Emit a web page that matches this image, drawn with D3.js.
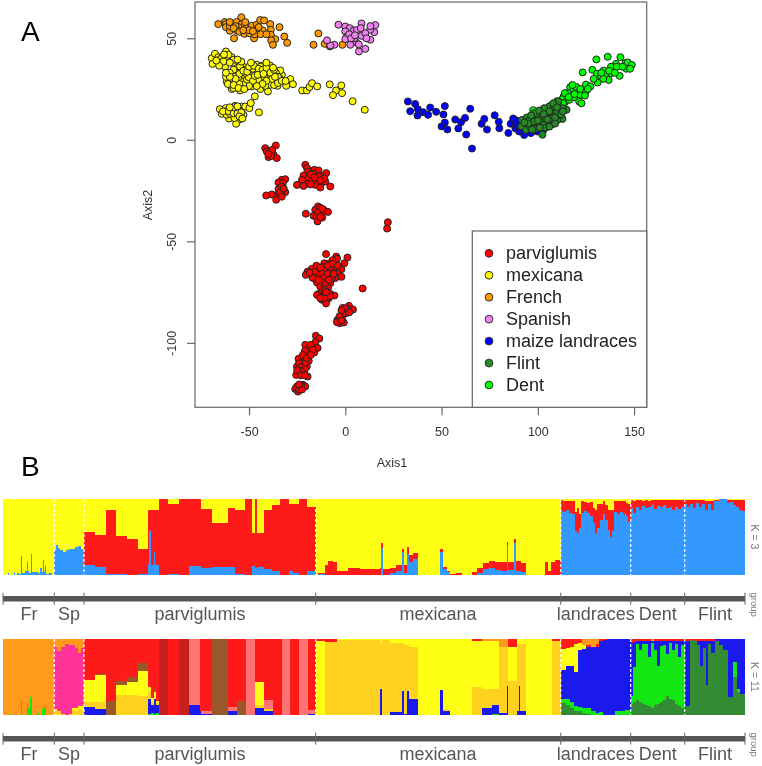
<!DOCTYPE html>
<html><head><meta charset="utf-8">
<script src="https://cdn.jsdelivr.net/npm/d3@7/dist/d3.min.js"></script>
<style>html,body{margin:0;background:#fff}svg{display:block;filter:blur(.5px)}text{font-family:"Liberation Sans",Arial,sans-serif}</style>
</head><body><svg id="c" width="762" height="766"></svg>
<script>
const parviglumisPts=[[-41.6,-4.1],[-36.1,-2.8],[-40.8,-5.7],[-39,-6.6],[-37.3,-7.4],[-39.9,-8.5],[-35.6,-9],[-38,-5],[-38.5,-8],[-40,-7],
[-20.8,-12.3],[-19.9,-13.9],[-19.6,-15.6],[-16.1,-14.8],[-13.9,-15.1],[-9.9,-16.4],[-21.7,-17.6],[-16.5,-16.7],[-12.1,-18],[-19,-18.9],[-15.1,-19.7],[-12.1,-21],[-20.3,-21.7],[-25.1,-22.2],[-21.7,-22.7],[-15.6,-22.2],[-13,-23.5],[-7.8,-23],[-22.5,-19.7],[-10.4,-20.5],[-18,-17],[-17,-20],[-14,-18],[-11,-19],[-18,-22],[-16,-18.5],[-13,-20],
[-33,-19.7],[-31.2,-19.4],[-34.7,-21],[-32.4,-21.3],[-34.7,-24.3],[-31.2,-25.8],[-33.5,-26.6],[-35.2,-27.1],[-38.2,-26.9],[-41.1,-27.4],[-35.9,-29.5],[-33,-23],[-34,-26],[-33,-28],[-32,-24],
[-14.2,-32.8],[-15.6,-34.5],[-11.3,-34.5],[-9,-35.5],[-20.5,-36.4],[-14.7,-36.9],[-12.1,-36.1],[-16.5,-37.4],[-12,-38.3],[-15,-38.1],[-14.4,-40.2],[-13,-33.5],[-14,-35.5],[-12,-34],[-13,-38],[22.1,-40.6],[21.7,-43.7],
[-10,-56.3],[-4.7,-57.5],[1.1,-58],[-4.3,-58.6],[-6.7,-59.3],[-0.5,-60.8],[-10.9,-60.8],[-8.6,-61.1],[-11.6,-62.7],[-6,-63.2],[-2,-63.7],[-17.3,-63.5],[-19.6,-64.9],[-7.4,-65],[-10.4,-64.4],[-13.9,-64.9],[-20.5,-66.5],[-17.3,-66.2],[-4,-66],[-2,-67.5],[-13.5,-67.3],[-9.5,-67],[-15.6,-68.6],[-5.2,-68.1],[-10.4,-69.8],[-14.7,-70.3],[-7.8,-70.6],[-13,-72.3],[-10.4,-72.3],[9,-73.2],
[-15,-62],[-13,-63],[-12,-66],[-11,-68],[-15,-66],[-8,-63],[-9,-66],[-7,-68],[-6,-66],[-12,-70],[-10,-71],[-16,-65],[-17,-68],[-9,-73],[-12,-74.5],[-9,-62],[-6.5,-61],[-18.5,-65.5],[-14,-69],[-8.5,-69],[-4,-62],
[-13.9,-76],[-12.1,-77.2],[-10.4,-76],[-7.8,-75.9],[-5.7,-76.7],[-14.7,-76.4],[-8.6,-78],[-12.1,-78.8],[-10,-80.6],[-10.4,-73.9],[-8,-77],[-11,-78],[-13,-78],[-10,-75],
[1.9,-81.8],[4,-83.6],[-1.4,-82.8],[1.2,-83.3],[0.4,-85.4],[-1.7,-87.4],[-4.1,-88.7],[-2.9,-90.3],[-0.8,-90],[-4.3,-89.8],[-1.2,-85.4],[0,-83],[-2,-84],[-3,-87],[-2,-89],[2,-85],
[-15.3,-96.5],[-13.5,-97.9],[-15.6,-99.7],[-20.8,-101],[-14.4,-102.5],[-17.2,-102.6],[-19.6,-103.5],[-16.1,-104.8],[-20.8,-105.9],[-22.9,-107.5],[-19,-108.9],[-24.3,-107.9],[-22,-109.7],[-25.1,-111.7],[-22.5,-112.8],[-20,-111.7],[-24.3,-114.6],[-21.7,-114.9],[-19.6,-116.6],[-25.5,-115.8],
[-18,-101],[-19,-106],[-21,-104],[-21,-108],[-23,-110],[-21,-110],[-24,-110],[-23,-112],[-21,-113],[-23,-114],[-25,-113.5],[-23,-116],[-21,-116],[-17,-103.5],[-22,-106],[-20,-107.5],[-18,-106],
[-22,-120.7],[-20.8,-121.5],[-25.1,-121.5],[-23,-122.3],[-26,-122.7],[-24.6,-124],[-23,-121],[-24,-123],[-22.5,-123],[-24,-120.5]];
const mexicanaPts=[[-69.4,40.2],[-69,37.4],[-67.7,42.4],[-66,40.7],[-65,38],[-62,43.5],[-63.9,41],[-61.6,39.7],[-59,40.7],[-62.5,36],[-58,37.8],[-55,37.8],[-56.4,35.3],[-53,36],[-49.5,34.8],[-46,37],[-43.4,36.5],[-39,36.5],[-59,32],[-56.4,33.7],[-53,31.5],[-49.5,32],[-45,33.7],[-41.6,33.7],[-37.3,32.5],[-33,32],[-33.8,34.2],[-61.6,28.7],[-57.3,28.7],[-53.8,28.7],[-50.3,28],[-46,28],[-40.8,28.7],[-36.4,29.6],[-34.2,30.4],[-59,25],[-54.7,24.3],[-51.2,26],[-44.2,25],[-40.2,23.8],[-35.2,26.6],[-30.7,26.6],[-28.6,29.9],[-27.2,27.4],
[-59.9,29.9],[-55.5,30.9],[-47.7,30.4],[-43.4,29.6],[-52,34.5],[-46.8,33.2],[-58,34.5],[-59.9,27.1],[-56.4,26.6],[-48.6,26.3],[-54.7,33.7],[-39.9,30.4],[-65,39.7],[-60.7,41.9],[-58.1,39.4],[-54.7,36.1],[-63.3,38.6],[-51.2,29.6],[-44.2,31.2],[-39,27.1],[-50.3,30.9],[-58.1,25.5],[-45.1,29.6],[-41.6,26.6],[-62,31],[-48,35],[-52,33],[-44,36],[-36,33],[-42,31],[-37,27],
[-60,33],[-57.5,31],[-55,32.5],[-53,34],[-51,33.5],[-50,36],[-47.5,36.5],[-45,35],[-43,34.5],[-41,35.5],[-39,33],[-37,34.5],[-35,31],[-38,30],[-41,29],[-43,27.5],[-46,26.5],[-48,29],[-50,26.5],[-53,27],[-55,27.5],[-57,30],[-60,31],[-61,27.5],[-58,27],[-55.5,25.5],[-52.5,25],[-47,31.5],[-45.5,32],[-42.5,32.5],[-35,28],[-33,29],[-31,29],[-36.5,31],[-54,38.5],[-56,39.5],[-60,38],[-63,42],[-65.5,36.5],[-67,39],[-62,33],[-49,38],[-41,38],[-37.5,35.5],
[-22.4,24.3],[-20,24.3],[-18.6,26],[-17.3,27.9],[-14.6,26.3],[-8.1,27.3],[-2.1,26.8],[-4.8,24.3],[-1.7,23],[-6.4,22],[3.8,19],[10.1,14.8],
[-65.2,15.1],[-64.2,12.8],[-62.1,15.6],[-62.5,14],[-59,14.8],[-60.4,10.5],[-57.3,16.7],[-53.8,16.4],[-55.5,15.1],[-52.9,12.3],[-55.2,9.9],[-56.7,7.9],[-57.6,10.7],[-61.6,12.3],[-52,16.4],[-49.8,15.6],[-49.1,18.1],[-47,21.4],[-44.9,13.5],[-59.9,12.8],[-63.5,14],[-60.5,14],[-58,13],[-56,13],[-54,13.5],[-58,16],[-55,11.5],[-56,16.5],[-60,16],[-53.5,10.5]];
const frenchPts=[[-66,57],[-62.6,58],[-62,57],[-62,55.5],[-60,53.7],[-54,60.4],[-56.4,58],[-53.8,57],[-55.5,55.5],[-56.4,53.9],[-55,53.2],[-52.4,52.2],[-49.8,52.5],[-47.4,50],[-57.8,50],[-51.2,55],[-48.6,56.2],[-46,56.7],[-44.2,59],[-42.2,58.8],[-39,57],[-42.9,53.9],[-46.3,53.9],[-45,55.5],[-34.2,55.5],[-38.7,54.2],[-38.7,51.7],[-36.4,49.6],[-38.5,49],[-37.6,46.8],[-31.7,50.9],[-30.2,47.8],[-14,52.4],[-16.5,46.8],[-10.7,47.3],[-1.5,46.8],[-8,46],[-60,56],[-57,56],[-52,58],[-50,54],[-47,52],[-44,52],[-58,55],[-53,54],[-48,53.5],[-41,52],[-60,58]];
const spanishPts=[[-3.6,56.7],[0,55.8],[8.4,57.3],[15.6,56.5],[15,53],[12.9,54.2],[2.3,55],[4.4,53.9],[0,53.4],[0.9,50.9],[8.5,51.2],[10.4,52.5],[13,49.3],[5.6,48],[2.6,46.8],[0,49.6],[10.4,44.8],[7.1,43.5],[-5.7,46.8],[-7.8,46.5],[-9.5,49],[4.7,50],[2,52],[6,54],[8,55],[11,50],[7,47],[3,50],[13,56],[5,51.5]];
const landracePts=[[32.5,18.9],[36.3,17.7],[37.7,15.1],[33.7,14.1],[40.5,13.6],[37.5,12],[43,12.3],[44.1,15.9],[47.2,13.8],[51,12.5],[51.7,16.6],[51.7,8.5],[50,6.6],[53,5.1],[57.1,10],[60.1,8.7],[62.2,10.8],[58.7,5.6],[62.8,2.6],[65.8,-4.3],[64.9,15.3],[70.8,7.9],[72.2,10.3],[73.6,5.1],[77.6,12.1],[79.7,8.9],[80,5.7],[84.7,3.4],[87.2,10.5],[85.9,7.9],[88.4,5.6],[90.3,4.1],[92.9,2.4],[88.5,7.9],[95.5,4.9],[98.1,5.2],[101.2,5.4],[99.8,4.1],[96.4,3.3],[91.1,6.6],[101.6,7.4],[95,6.5],[93,7],[92,5],[97,5.5],[99,7],[89,9.5],[93,4.5],[103,5]];
const dentPts=[[97.6,14.6],[130.4,39.6],[136.3,40.9],[142.9,40.7],[140.6,37.4],[145.5,37.8],[146.7,38.1],[148.8,36.9],[146,35],[147.9,35],[128.3,34.5],[123.3,33.2],[130.7,32.5],[134.2,34.1],[138.9,35.8],[139.2,34.1],[132.8,31.5],[135.8,32.5],[138,32.8],[142.5,31.5],[136.8,29.5],[131.1,28.2],[125,27.2],[127.3,26.3],[116.8,25.9],[120.7,24.3],[125,24.1],[118.1,23.8],[122,22.2],[117.5,21.7],[124.5,21.8],[113.4,21.3],[115.5,23],[112.8,20],[121.5,18.9],[122.7,18],[114.1,18.5],[116.3,19.7],[109.4,17.6],[112,16.7],[118.9,21],[138,36],[137,34],[141,36],[134,30],[133,33],[144,36],[120,26],[118,27],[114,23],[110,19],[113,18],[107,17],[105,15],[102,14.5],[119,22.5],[122,25],[126,25],[116,21],[129,30],[140,33]];
const flintPts=[[91.8,9.8],[94.3,11],[91.5,6.6],[94.6,7.9],[93.9,4.9],[97.2,7.9],[97.7,10.7],[100.7,7.9],[101.6,12.3],[104.2,13.9],[106.8,16.1],[108.5,14.8],[111.6,14.3],[114.9,14.8],[112.8,10.3],[110.2,9.8],[107.5,7.7],[105,8.2],[105.9,12],[102.4,2.5],[103.3,9.8],[99.8,12.3],[108.5,12.3],[112.8,15.6],[98.1,13.1],[105.9,16.4],[110.6,18.9],[103.3,15.6],[108.5,16.7],[111.1,12.3],[100.7,14.4],[103,7.4],[95.5,9.5],[96,6.5],[98,9],[99,5.5],[102,10.5],[104,11],[106,14],[107,10.5],[109,11],[110,14],[104,6],[101,6],[96.5,12],[95,8],[93,8.5],[106,6.5],[109,8],[112,12.5],[113,14],[100,9.5],[103,12.7],[105,10],[97,5],[108,18],[110,16]];
const xTicks=[-50,0,50,100,150], yTicks=[50,0,-50,-100];
const legendNames=["parviglumis","mexicana","French","Spanish","maize landraces","Flint","Dent"];
const legendColors=["#ff0000","#ffff00","#ff9a00","#ee82ee","#0000ff","#228b22","#00ff00"];

const groupNames=["Fr","Sp","parviglumis","mexicana","landraces","Dent","Flint"];
const groupEnds=[0,51.3,81,312.7,557.7,627.7,681.7,742];
// K=3: [last individual, blue share, red share]; the rest is yellow
const k3Rows=[[5,.01,0],[6,.03,0],[11,.01,0],[12,.04,0],[14,.01,0],[16,.03,0],[18,.02,0],[19,.25,0],[22,.03,0],[24,.06,0],[25,.18,0],[26,.06,0],[28,.03,0],[29,.28,0],[30,.04,0],[35,.04,0],[37,.03,0],[39,.1,0],[40,.04,0],[41,.2,0],[42,.05,0],[43,.12,0],[46,.02,0],[49,.03,0],[51.3,.01,0],
[53,.33,0],[55,.4,0],[57,.36,0],[60,.33,0],[63,.31,0],[66,.33,0],[69,.34,0],[72,.35,0],[75,.37,0],[78,.38,0],[81,.35,0],
[92,.14,.43],[103,.11,.42],[113,.02,.83],[124,.02,.49],[135,.01,.47],[145,.02,.33],[146,.15,.71],[148,.58,.27],[151,.13,.73],[152,.3,.56],[156,.13,.73],[165,0,1],[176,.02,.91],[186,0,1],[198,.12,.88],[209,.1,.77],[225,.11,.57],[232,.11,.77],[242,.02,.83],[249,0,1],[252,.12,.43],[254,.1,.9],[261,.11,.44],[269,.08,.77],[277,.05,.87],[286,0,1],[290,.05,.88],[296,.03,.9],[304,0,1],[312.7,.06,.83],
[315,0,0],[322,.02,.01],[325,0,.13],[330,0,.19],[334,0,.17],[345,.01,.05],[357,.01,.08],[368,.01,.07],[377,.01,.07],[378,.01,.08],[380,.36,.06],[387,.01,.07],[393,.03,.06],[399,.05,.09],[401,.3,.04],[404,.03,.1],[406,.28,.09],[410,.18,.09],[415,.22,.07],[422,0,0],[437,0,.01],[440,.3,.04],[444,.08,.03],[447,.04,.02],[453,.01,.01],[459,.01,.02],[469,0,0],[474,.01,.03],[480,.03,.06],[486,.08,.08],[492,.09,.1],[498,.07,.1],[504,.06,.12],[505,.38,.06],[511,.07,.1],[513,.42,.06],[518,.06,.13],[523,.04,.12],[527,0,0],[542,0,.01],[545,0,.18],[548,0,.05],[552,0,.18],[557.7,0,.2],
[560,.84,.15],[563,.83,.14],[566,.85,.13],[569,.82,.16],[572,.8,.17],[574,.58,.25],[576,.55,.33],[578,.62,.18],[581,.82,.16],[584,.84,.12],[587,.81,.14],[590,.78,.18],[592,.68,.2],[594,.55,.3],[597,.62,.32],[600,.72,.22],[602,.8,.17],[605,.72,.2],[607,.6,.25],[609,.5,.35],[611,.58,.28],[614,.83,.15],[617,.8,.18],[620,.83,.14],[623,.8,.17],[625,.78,.17],[627.7,.7,.24],
[630,.88,.11],[633,.82,.16],[636,.9,.09],[639,.86,.13],[642,.91,.07],[645,.88,.11],[648,.9,.08],[651,.92,.07],[654,.87,.12],[657,.91,.08],[660,.9,.09],[663,.92,.07],[666,.88,.11],[669,.9,.09],[672,.86,.13],[675,.89,.1],[678,.87,.12],[681.7,.9,.09],
[684,.93,.06],[687,.9,.09],[690,.94,.05],[693,.88,.11],[696,.95,.04],[699,.9,.09],[702,.94,.05],[705,.85,.13],[708,.93,.05],[711,.86,.12],[713,.97,.02],[716,.98,.01],[724,1,0],[727,.95,.04],[730,.96,.03],[733,.92,.07],[736,.89,.1],[739,.86,.13],[742,.84,.15]];
const k3Keys=["blue","red","yellow"];
const k3Colors=["#3399ff","#ff1a1a","#ffff14"];
// K=11: [last individual, shares by cluster]
const k11Keys=["dg","g","b","au","y","br","sa","dr","r","pk","or"];
const k11Colors=["#338c33","#14e614","#1a1aee","#ffd21f","#ffff14","#99582a","#ff7373","#c81e1e","#ff1a1a","#ff3399","#ff9a1a"];
const k11Rows=[[7,{or:1}],[8,{g:.02,or:.98}],[18,{g:.005,or:.995}],[19,{g:.2,or:.8}],[24,{or:1}],[25,{g:.15,or:.85}],[27,{g:.1,or:.9}],[29,{g:.24,or:.76}],[34,{or:1}],[36,{g:.03,or:.97}],[39,{or:1}],[40,{g:.08,or:.92}],[41,{g:.13,or:.87}],[42,{g:.09,or:.91}],[43,{g:.14,or:.86}],[51.3,{or:1}],
[54,{au:.05,y:.03,pk:.82,or:.1}],[58,{au:.06,pk:.78,or:.16}],[62,{au:.02,pk:.88,or:.1}],[66,{au:.01,pk:.93,or:.06}],[69,{au:.02,pk:.9,or:.08}],[72,{au:.07,y:.02,pk:.83,or:.08}],[75,{au:.06,y:.03,pk:.79,or:.12}],[78,{au:.08,y:.04,pk:.7,or:.18}],[81,{au:.07,y:.05,pk:.76,or:.12}],
[92,{b:.11,au:.07,y:.28,r:.54}],[103,{b:.08,au:.1,y:.35,br:.01,r:.46}],[113,{br:.19,r:.81}],[124,{au:.27,y:.13,br:.05,r:.55}],[135,{au:.27,y:.17,br:.06,r:.5}],[145,{au:.25,y:.33,br:.1,r:.32}],[148,{g:.02,b:.2,au:.1,y:.05,r:.63}],[151,{g:.03,b:.1,au:.05,y:.05,r:.77}],[153,{g:.02,b:.2,y:.08,br:.05,r:.65}],[156,{g:.03,b:.1,au:.03,y:.03,r:.81}],[165,{dr:1}],[176,{r:1}],[186,{dr:1}],[197,{g:.01,b:.13,sa:.86}],[198,{b:.05,r:.95}],[209,{b:.02,sa:.03,r:.95}],[225,{br:1}],[234,{b:.05,sa:.06,r:.89}],[243,{br:.19,r:.81}],[252,{sa:1}],[261,{b:.1,au:.03,y:.3,r:.57}],[270,{b:.05,au:.03,sa:.12,r:.8}],[279,{r:1}],[287,{sa:1}],[296,{r:1}],[305,{sa:1}],[312.7,{b:.02,sa:.05,r:.93}],
[322,{y:.98,r:.02}],[334,{au:.96,r:.04}],[377,{au:.99,y:.01}],[379,{b:.35,au:.6,y:.05}],[387,{au:.99,y:.01}],[399,{b:.04,au:.91,y:.05}],[401,{b:.32,au:.63,y:.05}],[404,{b:.02,au:.9,y:.08}],[406,{b:.32,au:.6,y:.08}],[414.5,{b:.22,au:.68,y:.1}],[437,{y:1}],[440,{b:.33,y:.67}],[447,{b:.05,au:.03,y:.92}],[469,{y:1}],[479,{au:.37,y:.6,r:.03}],[489,{g:.01,b:.08,au:.25,y:.64,or:.02}],[496,{g:.02,b:.12,au:.2,y:.64,or:.02}],[504,{b:.03,au:.87,or:.1}],[505,{b:.38,au:.52,or:.1}],[514,{au:.45,y:.45,r:.1}],[516,{b:.06,au:.88,y:.06}],[517,{b:.38,au:.56,y:.06}],[523,{b:.06,au:.88,y:.06}],[549,{y:1}],[557.7,{au:.97,r:.03}],
[563,{dg:.16,g:.06,b:.38,y:.27,r:.13}],[567,{dg:.13,g:.08,b:.43,y:.24,r:.12}],[571,{dg:.1,g:.08,b:.47,y:.25,r:.1}],[575,{dg:.06,g:.06,b:.45,y:.36,r:.07}],[579,{dg:.05,g:.06,b:.75,y:.09,r:.05}],[583,{dg:.03,g:.06,b:.78,y:.05,or:.08}],[588,{dg:.02,g:.07,b:.8,or:.08,r:.03}],[593,{dg:.01,g:.05,b:.84,or:.1}],[596,{g:.03,b:.87,or:.07,r:.03}],[600,{g:.04,b:.94,r:.02}],[604,{b:.99,r:.01}],[608,{b:1}],[612,{g:.01,b:.99}],[617,{g:.05,b:.95}],[622,{g:.06,b:.94}],[627.7,{g:.07,b:.93}],
[630,{dg:.15,g:.1,b:.7,r:.05}],[633,{dg:.18,g:.45,b:.33,r:.04}],[636,{dg:.2,g:.73,b:.05,r:.02}],[639,{dg:.17,g:.68,b:.13,r:.02}],[642,{dg:.15,g:.78,b:.05,r:.02}],[645,{dg:.14,g:.8,b:.04,r:.02}],[648,{dg:.12,g:.65,b:.2,r:.03}],[651,{dg:.1,g:.85,b:.03,or:.02}],[654,{dg:.13,g:.72,b:.13,r:.02}],[657,{dg:.15,g:.5,b:.32,r:.03}],[660,{dg:.17,g:.74,b:.07,r:.02}],[663,{dg:.2,g:.72,b:.06,r:.02}],[666,{dg:.25,g:.55,b:.18,r:.02}],[669,{dg:.22,g:.73,b:.03,r:.02}],[672,{dg:.2,g:.66,b:.12,r:.02}],[675,{dg:.15,g:.78,b:.05,r:.02}],[678,{dg:.12,g:.65,b:.2,r:.03}],[681.7,{dg:.1,g:.82,b:.06,r:.02}],
[683,{dg:.1,b:.88,r:.02}],[687,{dg:.12,b:.86,r:.02}],[691,{dg:.99,r:.01}],[694,{dg:.97,r:.03}],[697,{dg:.92,b:.06,r:.02}],[700,{dg:.65,b:.33,r:.02}],[703,{dg:.88,b:.1,r:.02}],[705,{dg:.4,b:.58,r:.02}],[708,{dg:.94,b:.04,r:.02}],[712,{dg:.82,b:.16,r:.02}],[716,{dg:.97,b:.03}],[720,{dg:.92,b:.08}],[725,{dg:.85,b:.15}],[730,{dg:.24,b:.76}],[734,{dg:.5,g:.2,b:.3}],[737,{dg:.3,g:.05,b:.65}],[742,{dg:.28,b:.72}]];

const svg=d3.select("#c");
const x=d3.scaleLinear().domain([-78,156.5]).range([195.15,646.6]);
const y=d3.scaleLinear().domain([-132,68]).range([407.8,1.76]);
const grey="#666";
const plot=svg.append("g");
[[parviglumisPts,0],[mexicanaPts,1],[frenchPts,2],[spanishPts,3],[landracePts,4],[dentPts,6],[flintPts,5]].forEach(([pts,i])=>{
  plot.append("g").selectAll("circle").data(pts).join("circle")
    .attr("cx",d=>x(d[0])).attr("cy",d=>y(d[1])).attr("r",3.5)
    .attr("fill",legendColors[i]).attr("stroke","#222").attr("stroke-width",1);
});
svg.append("rect").attr("x",195).attr("y",2).attr("width",451.7).attr("height",405.3).attr("fill","none").attr("stroke",grey).attr("stroke-width",1.2);
const xa=svg.append("g").attr("transform","translate(0,407.3)").call(d3.axisBottom(x).tickValues(xTicks).tickSize(8).tickPadding(11.5).tickFormat(String));
const ya=svg.append("g").attr("transform","translate(195,0)").call(d3.axisLeft(y).tickValues(yTicks).tickSize(8).tickFormat(String));
[xa,ya].forEach(a=>{a.select(".domain").remove();a.selectAll("line").attr("stroke",grey).attr("stroke-width",1.2);a.selectAll("text").attr("font-size",12.5).attr("fill","#333").attr("font-family",'"Liberation Sans"');});
ya.selectAll("text").attr("transform","translate(-19,0) rotate(-90)").attr("x",0).attr("dy",0).attr("y",0).attr("text-anchor","middle");
svg.append("text").attr("x",392).attr("y",467).attr("text-anchor","middle").attr("font-size",12.5).attr("fill","#333").text("Axis1");
svg.append("text").attr("transform","translate(151.5,205) rotate(-90)").attr("text-anchor","middle").attr("font-size",12.5).attr("fill","#333").text("Axis2");
svg.append("text").attr("x",21).attr("y",41).attr("font-size",28).text("A");
svg.append("text").attr("x",21).attr("y",476).attr("font-size",28).text("B");
// legend
svg.append("rect").attr("x",472.3).attr("y",231).attr("width",174.4).attr("height",176.3).attr("fill","#fff").attr("stroke",grey).attr("stroke-width",1.2);
const ly=d3.scalePoint().domain(legendNames).range([253.3,385]);
const lg=svg.append("g").selectAll("g").data(legendNames).join("g");
lg.append("circle").attr("cx",489).attr("cy",d=>ly(d)).attr("r",3.9).attr("fill",(d,i)=>legendColors[i]).attr("stroke","#333").attr("stroke-width",1);
lg.append("text").attr("x",506).attr("y",d=>ly(d)+6).attr("font-size",18).attr("fill","#222").text(d=>d);

// admixture bars
const bx=d3.scaleLinear().domain([0,742]).range([3,745]);
function bars(rows,keys,colors,top,bottom){
  const b=d3.scaleLinear().domain([0,1]).range([bottom,top]);
  const stack=d3.stack().keys(keys).value((d,k)=>d.v[k]||0).offset(d3.stackOffsetExpand)(rows);
  const g=svg.append("g").attr("shape-rendering","crispEdges");
  stack.forEach((s,i)=>{
    g.append("g").attr("fill",colors[i]).selectAll("rect").data(s).join("rect")
      .attr("x",(d,j)=>bx(j?rows[j-1].end:0)).attr("width",(d,j)=>bx(rows[j].end)-bx(j?rows[j-1].end:0))
      .attr("y",d=>b(d[1])).attr("height",d=>b(d[0])-b(d[1]));
  });
  svg.append("g").selectAll("line").data(groupEnds.slice(1,-1)).join("line")
    .attr("x1",d=>bx(d)).attr("x2",d=>bx(d)).attr("y1",top).attr("y2",bottom)
    .attr("stroke","#fff").attr("stroke-width",1.2).attr("stroke-dasharray","3,2");
}
function groupAxis(cy,base){
  const g=svg.append("g");
  g.append("line").attr("x1",bx(0)).attr("x2",bx(742)).attr("y1",cy).attr("y2",cy).attr("stroke","#555").attr("stroke-width",5.5);
  g.selectAll("line.t").data(groupEnds).join("line").attr("class","t")
    .attr("x1",d=>bx(d)).attr("x2",d=>bx(d)).attr("y1",cy-6).attr("y2",cy+6).attr("stroke","#666").attr("stroke-width",1);
  const mids=[29,69,200,438,595.7,657.7,715];
  g.selectAll("text").data(groupNames).join("text").attr("x",(d,i)=>mids[i]).attr("y",base).attr("text-anchor","middle").attr("font-size",18).attr("fill","#555").text(d=>d);
  svg.append("text").attr("transform",`translate(751,${cy+6}) rotate(90)`).attr("text-anchor","middle").attr("font-size",9.5).attr("fill","#777").text("group");
}
function kLabel(t,cy){svg.append("text").attr("transform",`translate(751,${cy}) rotate(90)`).attr("text-anchor","middle").attr("font-size",10.5).attr("fill","#777").text(t);}
bars(k3Rows.map(r=>({end:r[0],v:{blue:r[1],red:r[2],yellow:Math.max(0,1-r[1]-r[2])}})),k3Keys,k3Colors,499,575.3);
bars(k11Rows.map(r=>({end:r[0],v:r[1]})),k11Keys,k11Colors,639,715.3);
groupAxis(598.7,620);groupAxis(738.7,760);
kLabel("K = 3",537);kLabel("K = 11",677);
</script></body></html>
